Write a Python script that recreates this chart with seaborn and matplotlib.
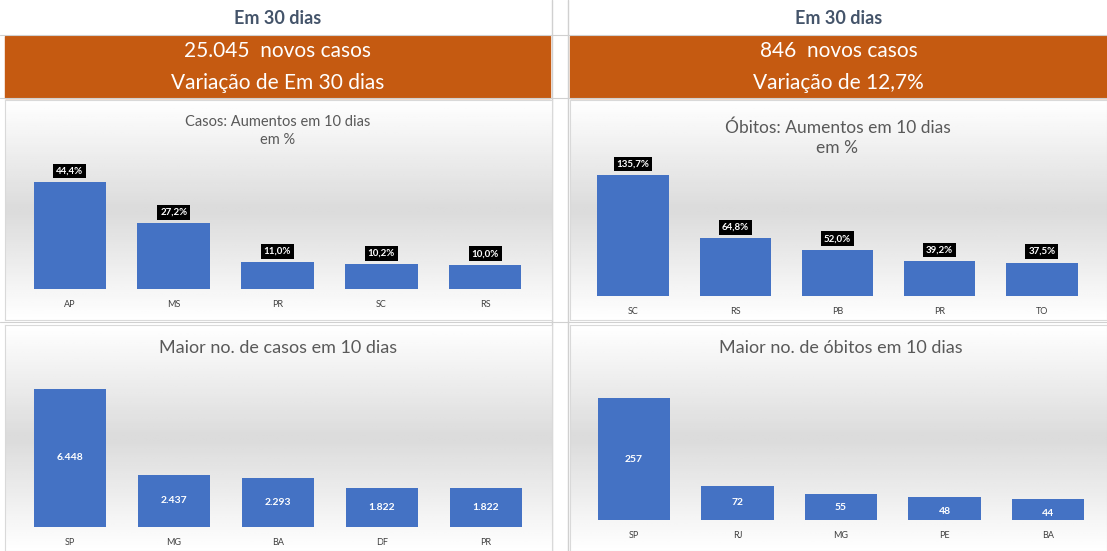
import numpy as np
import matplotlib
matplotlib.use("Agg")
import matplotlib.pyplot as plt
import seaborn as sns

# data
casos_pct_uf = ["AP", "MS", "PR", "SC", "RS"]
casos_pct = [44.4, 27.2, 11.0, 10.2, 10.0]
obitos_pct_uf = ["SC", "RS", "PB", "PR", "TO"]
obitos_pct = [135.7, 64.8, 52.0, 39.2, 37.5]
casos_abs_uf = ["SP", "MG", "BA", "DF", "PR"]
casos_abs = [6448, 2437, 2293, 1822, 1822]
obitos_abs_uf = ["SP", "RJ", "MG", "PE", "BA"]
obitos_abs = [257, 72, 55, 48, 44]

W, H = 1107, 551
BAR = "#4472C4"
ORANGE = "#C55A11"

sns.set_style("white")
plt.rcParams["font.family"] = ["Lato", "DejaVu Sans"]
fig = plt.figure(figsize=(W / 100, H / 100), dpi=100)


def px_axes(x0, y0, x1, y1, **kw):
    return fig.add_axes([x0 / W, 1 - y1 / H, (x1 - x0) / W, (y1 - y0) / H], **kw)


def fmt_br(v, dec):
    if dec:
        return f"{v:.1f}".replace(".", ",") + "%"
    return f"{v:,.0f}".replace(",", ".")


# background cells
bg = px_axes(0, 0, W, H)
bg.set_xlim(0, W)
bg.set_ylim(H, 0)
bg.axis("off")
for x in (552, 568):
    bg.axvline(x, color="#d0d0d0", lw=1)
for y in (35, 98, 322):
    bg.axhline(y, color="#d0d0d0", lw=0.8)

# headers and orange boxes
for (x0, x1), l1, l2 in [((5, 550), "25.045  novos casos", "Variação de Em 30 dias"),
                         ((570, 1107), "846  novos casos", "Variação de 12,7%")]:
    bg.text((x0 + x1) / 2, 19, "Em 30 dias", ha="center", va="center",
            fontsize=13, fontweight="bold", color="#44546A")
    bg.add_patch(plt.Rectangle((x0, 36), x1 - x0, 62, color=ORANGE))
    bg.text((x0 + x1) / 2, 51, l1, ha="center", va="center", fontsize=15, color="white")
    bg.text((x0 + x1) / 2, 83, l2, ha="center", va="center", fontsize=15, color="white")

# chart panels with soft gradient
grad = np.concatenate([np.linspace(1, 0.86, 50), np.linspace(0.86, 1, 50)])[:, None]
for (x0, y0, x1, y1) in [(5, 100, 552, 320), (570, 100, 1107, 320),
                         (5, 325, 552, 551), (570, 325, 1107, 551)]:
    pa = px_axes(x0, y0, x1, y1)
    pa.imshow(np.repeat(grad, 2, axis=1), cmap="gray", vmin=0, vmax=1,
              aspect="auto", extent=(0, 1, 0, 1))
    pa.set_xticks([])
    pa.set_yticks([])
    for s in pa.spines.values():
        s.set_color("#d9d9d9")

# overlay for titles
top_layer = px_axes(0, 0, W, H)
top_layer.set_xlim(0, W)
top_layer.set_ylim(H, 0)
top_layer.axis("off")
top_layer.patch.set_alpha(0)


def bar_chart(rect, cats, vals, ppu, base, top, dec, boxed, title, tsize, ty):
    x0, x1 = rect
    ax = px_axes(x0, top, x1, base)
    sns.barplot(x=cats, y=vals, color=BAR, width=0.7, saturation=1,
                edgecolor="none", ax=ax)
    ax.set_ylim(0, (base - top) / ppu)
    ax.set_xlim(-0.5, 4.5)
    ax.patch.set_alpha(0)
    sns.despine(ax=ax, left=True, bottom=True)
    ax.set_yticks([])
    ax.tick_params(axis="x", length=0, labelsize=6.5, colors="#404040", pad=8)
    for i, v in enumerate(vals):
        if boxed:
            ax.text(i, v + 11 / ppu, fmt_br(v, dec), ha="center", va="center",
                    fontsize=7, fontweight="bold", color="white",
                    bbox=dict(boxstyle="square,pad=0.3", fc="black", ec="none"))
        else:
            ax.text(i, min(v - 14 / ppu, v / 2), fmt_br(v, dec), ha="center",
                    va="center", fontsize=7.5, fontweight="bold", color="white")
    top_layer.text((x0 + x1) / 2, ty, title, ha="center", va="center",
                   fontsize=tsize, color="#595959", linespacing=1.3)


bar_chart((18, 537), casos_pct_uf, casos_pct, 107 / 44.4, 289, 140, True, True,
          "Casos: Aumentos em 10 dias\nem %", 10.5, 131)
bar_chart((582, 1093), obitos_pct_uf, obitos_pct, 121 / 135.7, 296, 150, True, True,
          "Óbitos: Aumentos em 10 dias\nem %", 12.5, 138)
bar_chart((18, 538), casos_abs_uf, casos_abs, 138 / 6448, 527, 370, False, False,
          "Maior no. de casos em 10 dias", 13, 348)
bar_chart((582, 1100), obitos_abs_uf, obitos_abs, 122 / 257, 520, 370, False, False,
          "Maior no. de óbitos em 10 dias", 13, 348)

fig.savefig("out.png", dpi=100)
